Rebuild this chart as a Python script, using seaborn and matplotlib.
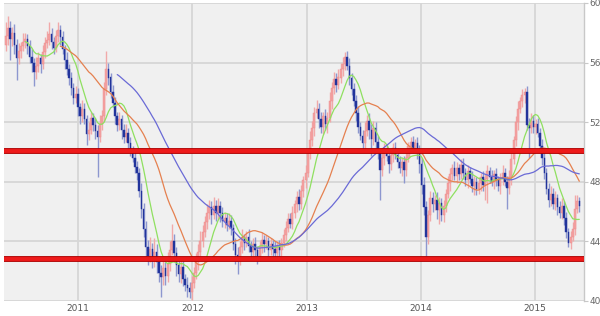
import numpy as np
import pandas as pd
import matplotlib
matplotlib.use("Agg")
import matplotlib.pyplot as plt
import matplotlib.dates as mdates
import seaborn as sns

# ---------------- data (weekly) ----------------
start_date = "2010-05-14"
first_open = 57.2
close = [
    57.8, 58.3, 57.6, 58.0, 57.2, 56.3, 56.8, 57.1, 57.4, 57.6,
    57.1, 56.4, 56.0, 55.4, 55.8, 56.3, 55.9, 56.7, 57.3, 57.5,
    57.9, 57.4, 57.0, 57.8, 58.2, 57.7, 56.9, 56.2, 55.6, 55.0,
    54.3, 53.6, 53.9, 53.0, 52.4, 52.9, 52.2, 51.2, 51.5, 52.3,
    51.8, 51.4, 51.0, 51.9, 52.4, 54.2, 55.6, 55.0, 54.0, 53.3,
    52.4, 51.8, 52.2, 51.5, 51.0, 51.3, 50.6, 50.1, 49.6, 49.0,
    48.6, 47.4, 46.2, 44.8, 43.6, 43.0, 43.5, 42.8, 43.3, 42.6,
    41.9, 41.6, 42.2, 41.7, 42.5, 43.4, 44.0, 43.2, 42.4, 41.8,
    42.3, 41.5, 41.1, 40.9, 40.6, 41.2, 41.9, 42.6, 43.3, 44.0,
    44.6, 45.3, 45.9, 46.3, 45.8, 46.4, 45.9, 46.4, 45.9, 45.4,
    45.6, 45.1, 45.4, 44.9, 43.8, 43.1, 42.7, 43.6, 44.2, 43.9,
    44.3, 43.7, 43.3, 43.8, 43.4, 43.0, 43.6, 44.1, 43.8, 44.0,
    43.4, 43.8, 43.5, 43.2, 43.7, 43.4, 43.9, 44.4, 44.9, 45.5,
    45.2, 45.9, 46.5, 47.0, 46.5, 47.4, 48.1, 48.6, 49.9, 50.8,
    51.6, 52.6, 52.9, 52.2, 51.7, 52.4, 51.9, 52.3, 53.4, 54.3,
    54.9, 54.5, 55.0, 55.6, 55.9, 56.4, 55.8, 55.0, 54.2, 53.4,
    52.6, 51.7, 51.1, 50.6, 51.4, 52.1, 51.5, 50.9, 51.6, 50.7,
    49.9, 48.8, 49.6, 50.2, 49.7, 49.2, 49.8, 50.3, 49.8, 49.3,
    48.9, 49.3, 48.8, 49.6, 50.4, 50.7, 50.3, 50.6, 50.0, 49.2,
    47.8, 46.3, 44.3, 45.8, 46.9, 46.5, 46.8, 46.1, 46.6, 45.8,
    46.4, 47.2, 47.9, 48.5, 48.9, 48.4, 48.9, 48.5, 49.1, 48.6,
    48.1, 48.7, 48.2, 47.7, 48.0, 47.5, 47.9, 48.3, 47.8, 48.2,
    48.7, 48.3, 48.0, 48.5, 48.1, 47.7, 48.2, 48.6, 48.0, 47.6,
    48.3, 49.5, 50.8, 52.0, 52.9, 53.4, 53.8, 54.0, 51.8, 51.6,
    52.1, 51.7, 51.9, 51.3, 50.4, 49.6, 48.6, 47.5, 46.8, 47.2,
    46.5, 46.9, 46.3, 45.9, 46.4, 45.6, 44.6, 43.9, 44.3, 44.8,
    46.2, 46.7, 46.4,
]
wick_hi = [
    0.9, 0.8, 0.5, 0.4, 0.6, 0.4, 0.5, 0.3, 0.6, 0.4,
    0.3, 0.4, 0.5, 0.3, 0.6, 0.4, 0.3, 0.5, 0.4, 0.6,
    0.8, 0.4, 0.3, 0.4, 0.5, 0.3, 0.4, 0.3, 0.5, 0.3,
    0.4, 0.3, 0.5, 0.4, 0.3, 0.6, 0.4, 0.3, 0.5, 0.4,
    0.3, 0.5, 0.4, 0.6, 0.4, 0.5, 1.2, 0.4, 0.3, 0.5,
    0.4, 0.3, 0.5, 0.3, 0.4, 0.6, 0.3, 0.4, 0.3, 0.5,
    0.4, 0.3, 0.5, 0.4, 0.6, 0.5, 0.8, 0.4, 0.9, 0.5,
    0.4, 0.5, 0.6, 0.4, 0.8, 0.6, 1.2, 0.5, 0.4, 0.6,
    0.5, 0.4, 0.3, 0.5, 0.4, 0.5, 0.4, 0.6, 0.5, 0.7,
    0.5, 0.4, 0.6, 0.5, 0.4, 0.6, 0.4, 0.5, 0.3, 0.4,
    0.4, 0.3, 0.5, 0.4, 0.3, 0.4, 0.5, 0.4, 0.6, 0.3,
    0.4, 0.5, 0.3, 0.4, 0.5, 0.3, 0.4, 0.5, 0.3, 0.4,
    0.3, 0.4, 0.3, 0.5, 0.3, 0.4, 0.3, 0.4, 0.5, 0.4,
    0.4, 0.5, 0.3, 0.4, 0.5, 0.4, 0.3, 0.5, 0.4, 0.6,
    0.5, 0.4, 0.6, 0.4, 0.5, 0.3, 0.5, 0.4, 0.6, 0.4,
    0.5, 0.4, 0.6, 0.4, 0.5, 0.3, 0.4, 0.5, 0.3, 0.4,
    0.4, 0.5, 0.3, 0.4, 0.6, 0.4, 0.5, 0.4, 0.5, 0.4,
    0.4, 0.3, 0.5, 0.4, 0.3, 0.4, 0.5, 0.3, 0.4, 0.5,
    0.4, 0.3, 0.4, 0.5, 0.3, 0.3, 0.4, 0.3, 0.4, 0.5,
    0.4, 0.5, 0.4, 0.3, 0.5, 0.4, 0.3, 0.5, 0.4, 0.3,
    0.4, 0.3, 0.5, 0.4, 0.3, 0.5, 0.4, 0.3, 0.4, 0.5,
    0.3, 0.4, 0.3, 0.5, 0.4, 0.3, 0.4, 0.3, 0.4, 0.3,
    0.4, 0.3, 0.5, 0.3, 0.4, 0.3, 0.4, 0.5, 0.3, 0.4,
    0.5, 0.4, 0.3, 0.4, 0.5, 0.3, 0.4, 0.3, 0.4, 0.5,
    0.5, 0.4, 0.3, 0.4, 0.3, 0.5, 0.4, 0.3, 0.4, 0.5,
    0.4, 0.5, 0.3, 0.4, 0.5, 0.3, 0.4, 0.3, 0.4, 0.5,
    0.9, 0.4, 0.3,
]
wick_lo = [
    0.4, 0.6, 1.4, 0.5, 0.6, 1.5, 0.4, 0.5, 0.3, 0.4,
    0.5, 0.4, 0.6, 1.0, 0.5, 0.4, 0.6, 0.3, 0.4, 0.3,
    0.3, 0.5, 0.4, 0.3, 0.4, 0.5, 0.3, 0.6, 0.4, 0.5,
    0.5, 0.4, 0.3, 0.6, 0.5, 0.4, 0.3, 0.7, 0.4, 0.3,
    0.4, 0.5, 2.7, 0.3, 0.4, 0.3, 0.4, 0.5, 0.4, 0.3,
    0.5, 0.4, 0.3, 0.6, 0.4, 0.3, 0.5, 0.4, 0.3, 0.4,
    0.5, 0.4, 0.6, 0.5, 0.7, 0.6, 0.4, 0.6, 0.5, 0.7,
    0.6, 1.3, 0.5, 0.6, 0.4, 0.5, 0.3, 0.6, 0.7, 0.5,
    0.6, 0.5, 0.4, 0.6, 0.4, 0.5, 0.3, 0.4, 0.5, 0.3,
    0.4, 0.3, 0.5, 0.4, 0.6, 0.3, 0.5, 0.4, 0.6, 0.4,
    0.5, 0.4, 0.3, 0.5, 0.4, 0.6, 0.9, 0.3, 0.4, 0.5,
    0.3, 0.4, 0.5, 0.3, 0.4, 0.5, 0.3, 0.4, 0.5, 0.3,
    0.4, 0.3, 0.5, 0.4, 0.3, 0.5, 0.4, 0.3, 0.4, 0.3,
    0.3, 0.4, 0.3, 0.5, 0.4, 0.3, 0.4, 0.5, 0.3, 0.4,
    0.4, 0.5, 0.3, 0.6, 0.4, 0.5, 0.4, 0.6, 0.3, 0.5,
    0.4, 0.5, 0.3, 0.4, 0.5, 0.4, 0.3, 0.5, 0.4, 0.3,
    0.5, 0.4, 0.3, 0.5, 0.4, 0.3, 0.6, 1.2, 0.4, 0.5,
    0.4, 2.0, 0.4, 0.5, 0.3, 0.6, 0.4, 0.5, 0.3, 0.4,
    0.3, 0.5, 0.9, 0.4, 0.3, 0.5, 0.4, 0.3, 0.5, 0.6,
    0.6, 0.5, 1.3, 0.5, 0.4, 0.5, 0.4, 0.6, 0.9, 0.4,
    0.5, 0.4, 0.3, 0.5, 0.4, 0.3, 0.5, 0.4, 0.3, 0.4,
    0.4, 0.5, 0.3, 0.4, 0.6, 0.4, 0.3, 0.5, 0.4, 1.0,
    1.6, 0.4, 0.3, 0.5, 0.4, 0.3, 0.5, 0.4, 0.3, 1.4,
    0.4, 0.5, 0.3, 0.4, 0.5, 0.3, 0.4, 0.5, 0.3, 2.0,
    0.3, 0.4, 0.5, 0.3, 0.4, 0.5, 0.4, 0.3, 0.5, 0.4,
    0.3, 0.4, 0.5, 0.3, 0.4, 0.5, 0.4, 0.3, 0.4, 0.3,
    0.4, 0.3, 0.4,
]
ma_periods = [10, 26, 52]
ma_colors = ["#8fe060", "#e5804f", "#6a6ad6"]
support_levels = [50.1, 42.8]
y_ticks = [40, 44, 48, 52, 56, 60]
year_ticks = ["2011", "2012", "2013", "2014", "2015"]

# ---------------- frame ----------------
n = len(close)
dates = pd.date_range(start_date, periods=n, freq="7D")
close_a = np.array(close)
open_a = np.concatenate([[first_open], close_a[:-1]])
high_a = np.maximum(open_a, close_a) + np.array(wick_hi)
low_a = np.minimum(open_a, close_a) - np.array(wick_lo)
df = pd.DataFrame({"date": dates, "open": open_a, "close": close_a,
                   "high": high_a, "low": low_a})
for p in ma_periods:
    df[f"ma{p}"] = df["close"].rolling(p).mean()

sns.set_theme(style="white")
plt.rcParams["font.family"] = ["DejaVu Sans"]

fig = plt.figure(figsize=(6.0, 3.16), dpi=100)
ax = fig.add_axes([4 / 600, 15 / 316, 580 / 600, 298 / 316])
ax.set_facecolor("#f0f0f0")

xd = mdates.date2num(df["date"])
# grid
for yv in y_ticks:
    ax.axhline(yv, color="#d6d6d6", lw=1.3, zorder=0)
for yr in year_ticks:
    ax.axvline(mdates.date2num(pd.Timestamp(f"{yr}-01-01")), color="#d6d6d6", lw=1.3, zorder=0)

up = df["close"] >= df["open"]
# wicks
ax.vlines(xd[up], df["low"][up], df["high"][up], color="#f1a9a9", lw=1.0, zorder=2)
ax.vlines(xd[~up], df["low"][~up], df["high"][~up], color="#8d97cf", lw=1.0, zorder=2)
# bodies
body_lo = np.minimum(df["open"], df["close"])
body_h = np.maximum(np.abs(df["close"] - df["open"]), 0.08)
ax.bar(xd[up], body_h[up], bottom=body_lo[up], width=6.5, color="#f4a3a3",
       edgecolor="#ec8a8a", linewidth=0.3, zorder=3)
ax.bar(xd[~up], body_h[~up], bottom=body_lo[~up], width=4.8, color="#22349b",
       edgecolor="#22349b", linewidth=0.3, zorder=3)

# moving averages
for p, c in zip(ma_periods, ma_colors):
    sns.lineplot(data=df, x="date", y=f"ma{p}", color=c, lw=0.9, ax=ax, zorder=4)

# support / resistance lines
for lv in support_levels:
    ax.axhline(lv, color="#b00000", lw=4.2, zorder=5)
    ax.axhline(lv, color="#ee1a1a", lw=2.8, zorder=6)

ax.set_xlim(mdates.date2num(pd.Timestamp(start_date)) - 5,
            mdates.date2num(pd.Timestamp(start_date)) + 1849)
ax.set_ylim(40, 60)
ax.set_xlabel("")
ax.set_ylabel("")
ax.set_xticks([mdates.date2num(pd.Timestamp(f"{y}-01-01")) for y in year_ticks])
ax.set_xticklabels(year_ticks)
ax.set_yticks(y_ticks)
ax.set_yticklabels([str(v) for v in y_ticks])
ax.yaxis.tick_right()
ax.tick_params(axis="y", right=True, length=3, width=0.8, color="#c8c8c8",
               labelsize=6.5, labelcolor="#666666", pad=1)
ax.tick_params(axis="x", bottom=False, length=0, labelsize=6.5,
               labelcolor="#555555", pad=2.5)
for s in ["top", "left", "bottom"]:
    ax.spines[s].set_visible(False)
ax.spines["right"].set_color("#c8c8c8")
ax.spines["right"].set_linewidth(1.0)

fig.savefig("out.png", dpi=100, facecolor="white")
